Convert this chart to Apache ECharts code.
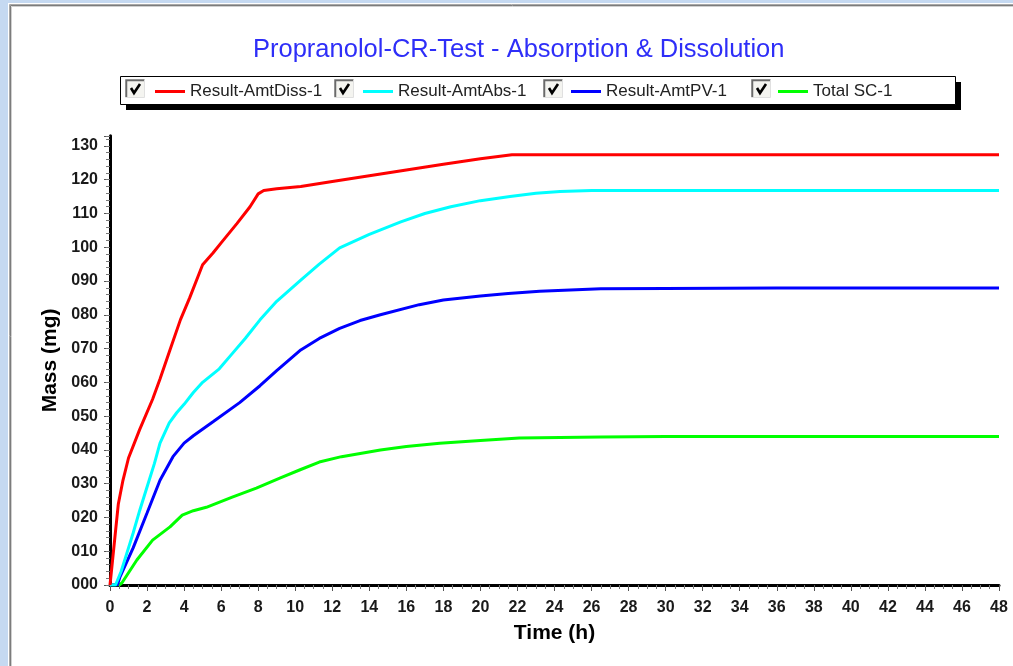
<!DOCTYPE html>
<html>
<head>
<meta charset="utf-8">
<title>Propranolol-CR-Test - Absorption & Dissolution</title>
<script src="https://cdn.jsdelivr.net/npm/echarts@6/dist/echarts.min.js"></script>
<style>
  html, body { margin: 0; padding: 0; background: #C5D9F1; }
  #chart { width: 1013px; height: 666px; }
</style>
</head>
<body>
<div id="chart"></div>
<script>
// Simulation output: amounts (mg) versus time (h)
const seriesNames = ['Result-AmtDiss-1', 'Result-AmtAbs-1', 'Result-AmtPV-1', 'Total SC-1'];
const seriesColors = ['#FF0000', '#00FFFF', '#0000FF', '#00FF00'];

const timeDiss = [0, 0.15, 0.3, 0.45, 0.7, 1.0, 1.6, 2.3, 2.7, 3.2, 3.8, 4.3, 5.0, 5.56, 6.0, 6.85, 7.56, 8.0, 8.3, 9.0, 10.3, 12, 14, 16, 18, 20, 21.7, 30, 40, 48];
const amtDiss  = [0, 8, 16, 24, 31, 37.6, 46, 55, 61, 69, 78.5, 85, 94.8, 98.3, 101.3, 107, 112, 115.8, 116.8, 117.3, 118, 119.5, 121.2, 122.9, 124.6, 126.2, 127.4, 127.4, 127.4, 127.4];

const timeAbs = [0, 0.3, 0.6, 1.0, 1.25, 1.6, 2.0, 2.4, 2.7, 3.2, 3.6, 4.0, 4.5, 5.0, 5.9, 6.6, 7.3, 8.1, 9.0, 10.3, 11.3, 12.4, 14, 15.7, 17, 18.4, 20, 21.6, 23, 24.3, 26, 30, 40, 48];
const amtAbs  = [0, 0, 4, 11, 15.4, 22, 29, 36, 42, 48, 51, 53.5, 57, 60, 64, 68.5, 73, 78.5, 84, 90.3, 95, 99.8, 103.8, 107.5, 110, 112, 113.8, 115, 116, 116.5, 116.8, 116.8, 116.8, 116.8];

const timePV = [0, 0.4, 0.54, 1.25, 2.0, 2.7, 3.4, 4.0, 4.5, 5.6, 7.0, 8.1, 9.0, 10.3, 11.3, 12.4, 13.5, 14.6, 16.7, 18, 20, 21.5, 23.2, 26.5, 30, 36, 48];
const amtPV  = [0, 0, 2.4, 11, 21.3, 31, 38, 42, 44.2, 48.5, 54, 59, 63.5, 69.6, 73, 76, 78.3, 80, 83, 84.4, 85.6, 86.3, 87, 87.7, 87.8, 87.9, 87.9];

const timeSC = [0, 0.5, 0.64, 1.45, 2.3, 3.24, 3.9, 4.5, 5.2, 6.6, 7.9, 9.2, 10.3, 11.3, 12.5, 14.6, 16, 17.8, 20, 22.1, 26.5, 30, 48];
const totalSC = [0, 0, 0.6, 7.4, 13.3, 17.2, 20.7, 22, 23, 26, 28.7, 31.7, 34.2, 36.4, 38, 40, 41, 42, 42.8, 43.5, 43.8, 44, 44];

const xTicks = { min: 0, max: 48, step: 2 };
const yTicks = { min: 0, max: 133, step: 10, minorStep: 2 };

function pairs(ts, vs) { return ts.map((t, i) => [t, vs[i]]); }
const seriesData = [pairs(timeDiss, amtDiss), pairs(timeAbs, amtAbs), pairs(timePV, amtPV), pairs(timeSC, totalSC)];

const tickFont = { fontFamily: 'Liberation Sans, Arial, sans-serif', fontWeight: 'bold', fontSize: 16, color: '#1a1a1a' };
const nameFont = { fontFamily: 'Liberation Sans, Arial, sans-serif', fontWeight: 'bold', fontSize: 21, color: '#000' };

// legend layout: line icon start for each entry and the checkbox beside it
const legendLeft = [155, 363, 571, 778];
const checkLeft = [125, 334, 543, 751];

const graphics = [
  // window panel
  { type: 'rect', z: -10, shape: { x: 8, y: 3, width: 1100, height: 800 }, style: { fill: '#ffffff', stroke: null } },
  { type: 'rect', z: -9, shape: { x: 9.5, y: 4.5, width: 1100, height: 800 }, style: { fill: null, stroke: '#a8a8a8', lineWidth: 1 } },
  { type: 'rect', z: -9, shape: { x: 10.5, y: 5.5, width: 1100, height: 800 }, style: { fill: null, stroke: '#7c7c7c', lineWidth: 1 } },
  { type: 'rect', z: -9, shape: { x: 11.5, y: 6.5, width: 1100, height: 800 }, style: { fill: null, stroke: '#d0d0d0', lineWidth: 1 } },
  // legend frame with drop shadow
  { type: 'rect', z: 1, shape: { x: 126, y: 82, width: 835, height: 28 }, style: { fill: '#000' } },
  { type: 'rect', z: 2, shape: { x: 120.5, y: 76.5, width: 835, height: 28 }, style: { fill: '#fff', stroke: '#000', lineWidth: 1 } }
];
checkLeft.forEach(function (x) {
  graphics.push(
    { type: 'rect', z: 3, shape: { x: x + 0.5, y: 79.5, width: 19, height: 18 }, style: { fill: '#f4f4f0', stroke: '#e0e0e0', lineWidth: 1 } },
    { type: 'polyline', z: 4, shape: { points: [[x + 0.5, 97], [x + 0.5, 79.5], [x + 19.5, 79.5]] }, style: { stroke: '#a0a0a0', lineWidth: 1, fill: null } },
    { type: 'polyline', z: 4, shape: { points: [[x + 1.5, 97], [x + 1.5, 80.5], [x + 19, 80.5]] }, style: { stroke: '#6a6a6a', lineWidth: 1.5, fill: null } },
    { type: 'polyline', z: 5, shape: { points: [[x + 6, 88], [x + 9, 93], [x + 15, 84]] }, style: { stroke: '#000', lineWidth: 2.6, fill: null } }
  );
});

const option = {
  animation: false,
  backgroundColor: 'transparent',
  title: {
    text: 'Propranolol-CR-Test - Absorption & Dissolution',
    left: 253, top: 37, padding: 0,
    textStyle: { fontFamily: 'Liberation Sans, Arial, sans-serif', fontWeight: 'normal', fontSize: 25.5, color: '#2E2EF8' }
  },
  legend: seriesNames.map(function (n, i) {
    return {
      data: [{ name: n, icon: 'rect' }], left: legendLeft[i], top: 83, padding: 0, z: 6,
      itemWidth: 30, itemHeight: 3, selectedMode: false,
      textStyle: { fontFamily: 'Liberation Sans, Arial, sans-serif', fontSize: 17, color: '#222' }
    };
  }),
  graphic: graphics,
  grid: { left: 110, right: 14, top: 135.8, bottom: 81, containLabel: false },
  xAxis: {
    type: 'value', min: xTicks.min, max: xTicks.max, interval: xTicks.step,
    name: 'Time (h)', nameLocation: 'middle', nameGap: 38, nameTextStyle: nameFont,
    axisLine: { show: true, lineStyle: { color: '#000', width: 3 } },
    axisTick: { show: true, length: 6, lineStyle: { color: '#555', width: 1 } },
    minorTick: { show: true, splitNumber: 4, length: 4, lineStyle: { color: '#777', width: 1 } },
    axisLabel: Object.assign({ margin: 15 }, tickFont),
    splitLine: { show: false }
  },
  yAxis: [
    {
      type: 'value', min: yTicks.min, max: yTicks.max, interval: yTicks.step,
      name: 'Mass (mg)', nameLocation: 'middle', nameGap: 44, nameTextStyle: nameFont,
      axisLine: { show: true, onZero: false, lineStyle: { color: '#000', width: 3 } },
      axisTick: { show: true, length: 6, lineStyle: { color: '#555', width: 1 } },
      axisLabel: Object.assign({
        margin: 12,
        formatter: function (v) { return v % 10 === 0 ? String(v).padStart(3, '0') : ''; }
      }, tickFont),
      splitLine: { show: false }
    },
    {
      // minor ticks every 2 mg
      type: 'value', position: 'left', offset: 0, min: yTicks.min, max: yTicks.max, interval: yTicks.minorStep,
      axisLine: { show: false },
      axisTick: { show: true, length: 4, lineStyle: { color: '#777', width: 1 } },
      axisLabel: { show: false },
      splitLine: { show: false }
    }
  ],
  series: seriesNames.map(function (n, i) {
    return {
      name: n, type: 'line', xAxisIndex: 0, yAxisIndex: 0,
      data: seriesData[i], symbol: 'none', smooth: false, z: 3 + (3 - i),
      lineStyle: { color: seriesColors[i], width: 3 },
      itemStyle: { color: seriesColors[i] }
    };
  })
};

echarts.init(document.getElementById('chart'), null, { renderer: 'canvas' }).setOption(option);
</script>
</body>
</html>
